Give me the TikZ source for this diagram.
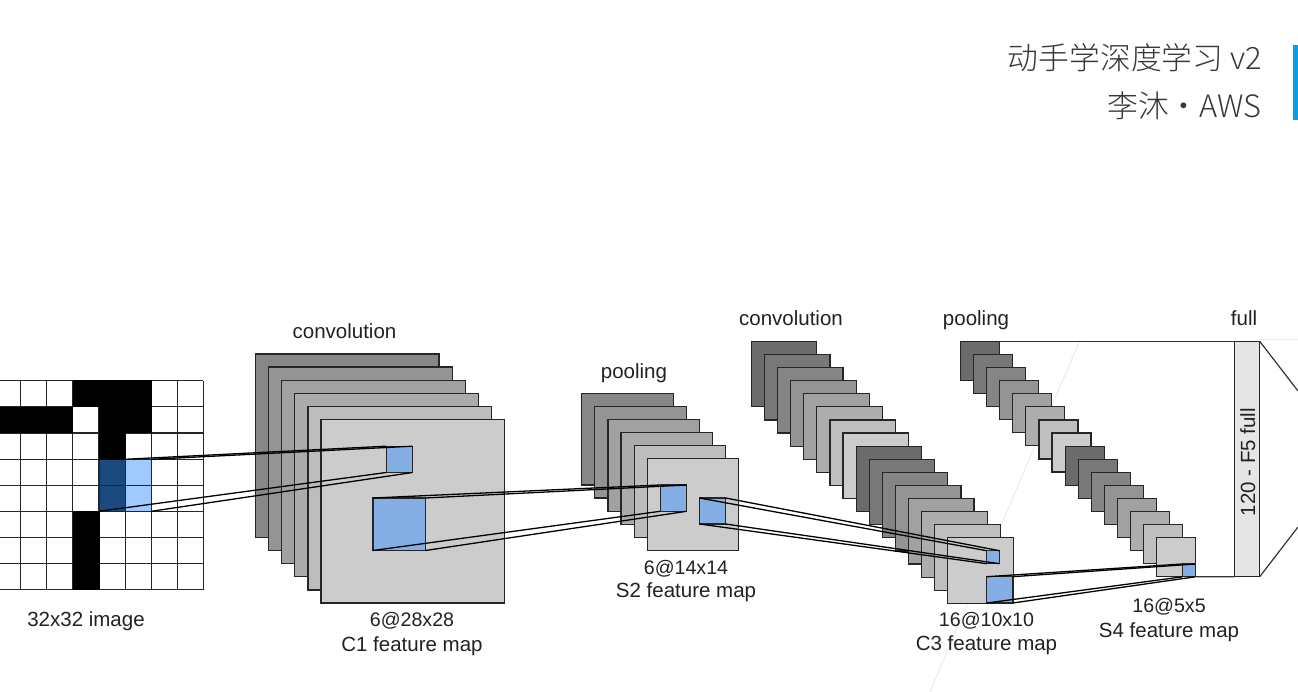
\documentclass[tikz,border=0pt]{standalone}
\usepackage{fontspec}
\setmainfont{Liberation Sans}
\newfontfamily\cjkfont{Noto Sans CJK SC Light}
\definecolor{bluecell}{HTML}{85AEE5}
\definecolor{lightcell}{HTML}{9FC9FF}
\definecolor{darkcell}{HTML}{1B4A80}
\definecolor{accentbar}{HTML}{0A9FE0}
\definecolor{labelgray}{HTML}{222222}
\tikzset{
  layerbox/.style={rectangle, draw=black!85, line width=1.2pt, anchor=north west, inner sep=0pt, outer sep=0pt},
  bluebox/.style={rectangle, draw=black!85, line width=1.2pt, fill=bluecell, anchor=north west, inner sep=0pt, outer sep=0pt},
  cellbox/.style={rectangle, anchor=north west, inner sep=0pt, outer sep=0pt},
  lbl/.style={anchor=base, inner sep=0pt, text=labelgray, font=\fontsize{20.5}{24}\selectfont},
  numlbl/.style={lbl, font=\fontsize{19.6}{24}\selectfont},
  title/.style={anchor=base east, inner sep=0pt, text=black!78, font=\cjkfont\fontsize{30.8}{36}\selectfont},
  link/.style={black, line width=1.3pt},
}
\begin{document}
\begin{tikzpicture}[x=1pt, y=-1pt]

    \clip (0,0) rectangle (1298,692);
    \fill[white] (0,0) rectangle (1298,692);

    % faint lines behind
    \coordinate (fainta) at (1080,340);
    \coordinate (faintb) at (930,692);
    \coordinate (faintc) at (1260,339.5);
    \coordinate (faintd) at (1298,339.5);
    \draw[black!9, line width=0.8pt] (fainta)--(faintb);
    \draw[black!9, line width=0.8pt] (faintc)--(faintd);

    % input image
    \node[cellbox, fill=darkcell, minimum width=26.2pt, minimum height=52pt] (srcdark) at (99,459.3) {};
    \node[cellbox, fill=lightcell, minimum width=26.1pt, minimum height=52pt] (srclight) at (125.2,459.3) {};

    \foreach \x in {20.7,46.7,72.8,99,125.2,151.3,177.4,203.4}
      \draw[black!85, line width=1.2pt] (\x,380.7)--(\x,589.7);
    \foreach \y in {380.7,406.8,432.9,459.1,485.2,511.3,537.5,563.6,589.7}
      \draw[black!85, line width=1.2pt] (0,\y)--(203.4,\y);

    \foreach \nm/\x/\y/\w/\h in {a/72.5/380.2/79.3/27, b/0/406.5/73.3/26.8, c/98.7/406.5/53.1/26.8, d/98.7/432.7/27/27, e/72.5/511/27/79.2}
      \node[cellbox, fill=black, minimum width=\w pt, minimum height=\h pt] (black\nm) at (\x,\y) {};

    % C1
    \foreach \i/\g in {0/47,1/42,2/37,3/33,4/26,5/20}
      \node[layerbox, fill=black!\g, minimum width=183.5pt, minimum height=183.5pt] (cone\i) at ({255.5+13.1*\i},{354+13.1*\i}) {};
    \node[bluebox, minimum width=26.3pt, minimum height=26.3pt] (conesmall) at (386.2,446.2) {};
    \node[bluebox, minimum width=52.5pt, minimum height=52.5pt] (conebig) at (373,498) {};

    % S2
    \foreach \i/\g in {0/47,1/42,2/37,3/33,4/26,5/20}
      \node[layerbox, fill=black!\g, minimum width=91.6pt, minimum height=91.6pt] (stwo\i) at ({581.7+13.1*\i},{393.3+13.1*\i}) {};
    \node[bluebox, minimum width=26.3pt, minimum height=26.3pt] (stwoa) at (660.2,485) {};
    \node[bluebox, minimum width=26pt, minimum height=26pt] (stwob) at (699.5,498) {};

    % C3
    \foreach \i/\g in {0/58,1/53,2/48,3/42,4/37,5/32,6/25,7/20,8/58,9/53,10/48,11/42,12/37,13/32,14/25,15/20}
      \node[layerbox, fill=black!\g, minimum width=65.5pt, minimum height=65.5pt] (cthree\i) at ({751.3+13.1*\i},{341.3+13.1*\i}) {};
    \node[bluebox, minimum width=12.8pt, minimum height=13pt] (cthreesmall) at (986.7,550.7) {};
    \node[bluebox, minimum width=26pt, minimum height=26.3pt] (cthreebig) at (986.7,576.7) {};

    % S4
    \foreach \i/\g in {0/58,1/53,2/48,3/42,4/37,5/32,6/25,7/20,8/58,9/53,10/48,11/42,12/37,13/32,14/25,15/20}
      \node[layerbox, fill=black!\g, minimum width=39pt, minimum height=39pt] (sfour\i) at ({960.3+13.1*\i},{341.3+13.1*\i}) {};
    \node[bluebox, minimum width=12.8pt, minimum height=12.8pt] (sfoursmall) at (1182.5,564) {};

    % F5
    \node[layerbox, fill=black!10, minimum width=25.4pt, minimum height=235.4pt] (ffive) at (1234.3,341.3) {};

    % connectors
    \draw[link] (srcdark.north east)--(conesmall.north west);
    \draw[link] (srclight.north east)--(conesmall.north east);
    \draw[link] (srcdark.south west)--(conesmall.south west);
    \draw[link] (srclight.south east)--(conesmall.south east);

    \draw[link] (conebig.north west)--(stwoa.north west);
    \draw[link] (conebig.north east)--(stwoa.north east);
    \draw[link] (conebig.south west)--(stwoa.south west);
    \draw[link] (conebig.south east)--(stwoa.south east);

    \draw[link] (stwob.north west)--(cthreesmall.north west);
    \draw[link] (stwob.north east)--(cthreesmall.north east);
    \draw[link] (stwob.south west)--(cthreesmall.south west);
    \draw[link] (stwob.south east)--(cthreesmall.south east);

    \draw[link] (cthreebig.north west)--(sfoursmall.north west);
    \draw[link] (cthreebig.north east)--(sfoursmall.north east);
    \draw[link] (cthreebig.south west)--(sfoursmall.south west);
    \draw[link] (cthreebig.south east)--(sfoursmall.south east);

    \draw[black!80, line width=1.2pt] (sfour0.north east)--(ffive.north west);
    \draw[black!80, line width=1.2pt] (sfour15.south east)--(ffive.south west);

    \coordinate (outa) at (1298,391);
    \coordinate (outb) at (1298,527);
    \draw[black!80, line width=1.2pt] (ffive.north east)--(outa);
    \draw[black!80, line width=1.2pt] (ffive.south east)--(outb);

    % labels
    \node[lbl] (lblimg) at (86,626.7) {32x32 image};
    \node[lbl] (lblconva) at (344.5,339) {convolution};
    \node[numlbl] (lblcone) at (412,626.7) {6@28x28};
    \node[lbl] (lblconemap) at (412,651) {C1 feature map};
    \node[lbl] (lblpoola) at (634,378.3) {pooling};
    \node[numlbl] (lblstwo) at (686,574) {6@14x14};
    \node[lbl] (lblstwomap) at (686,597.7) {S2 feature map};
    \node[lbl] (lblconvb) at (791,326) {convolution};
    \node[lbl] (lblpoolb) at (976,326) {pooling};
    \node[lbl] (lblfull) at (1244,326) {full};
    \node[numlbl] (lblcthree) at (986.5,626) {16@10x10};
    \node[lbl] (lblcthreemap) at (986.5,650) {C3 feature map};
    \node[numlbl] (lblsfour) at (1169,612.7) {16@5x5};
    \node[lbl] (lblsfourmap) at (1169,637.3) {S4 feature map};
    \node[lbl, rotate=90] (lblffive) at (1255,462) {120 - F5 full};

    % header
    \node[title] (titlea) at (1262,69.5) {动手学深度学习 v2};
    \node[title] (titleb) at (1262,118) {李沐・AWS};
    \node[rectangle, fill=accentbar, anchor=north west, minimum width=6pt, minimum height=75.5pt, inner sep=0pt, outer sep=0pt] (accent) at (1292.7,45) {};

\end{tikzpicture}
\end{document}
